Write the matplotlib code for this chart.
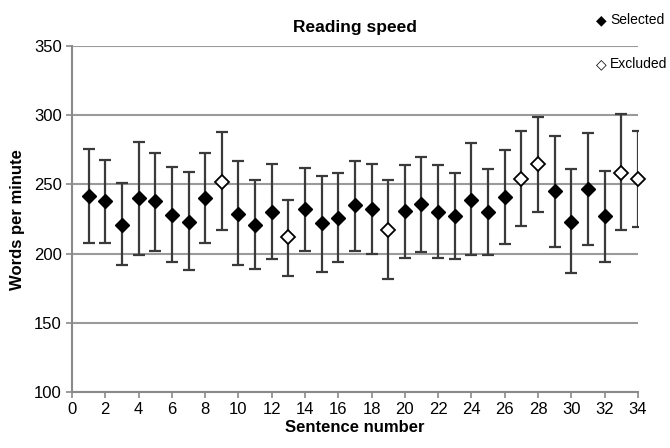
import matplotlib
matplotlib.use("Agg")
import matplotlib.pyplot as plt
import numpy as np

plt.rcParams['font.family'] = ['Liberation Sans', 'DejaVu Sans']

sentence = list(range(1, 35))
mean_wpm = [242, 238, 221, 240, 238, 228, 223, 240, 252, 229, 221,
            230, 212, 232, 222, 226, 235, 232, 217, 231, 236, 230,
            227, 239, 230, 241, 254, 265, 245, 223, 247, 227, 258, 254]
upper_wpm = [276, 268, 251, 281, 273, 263, 259, 273, 288, 267, 253,
             265, 239, 262, 256, 258, 267, 265, 253, 264, 270, 264,
             258, 280, 261, 275, 289, 299, 285, 261, 287, 260, 301, 289]
lower_wpm = [208, 208, 192, 199, 202, 194, 188, 208, 217, 192, 189,
             196, 184, 202, 187, 194, 202, 200, 182, 197, 201, 197,
             196, 199, 199, 207, 220, 230, 205, 186, 206, 194, 217, 219]
excluded = [9, 13, 19, 27, 28, 33, 34]

x = np.array(sentence)
m = np.array(mean_wpm)
up = np.array(upper_wpm)
lo = np.array(lower_wpm)
is_exc = np.isin(x, excluded)

fig = plt.figure(figsize=(6.7, 4.48), dpi=100)
ax = fig.add_axes([0.1075, 0.125, 0.8445, 0.772])

ax.errorbar(x, m, yerr=[m - lo, up - m], fmt='none', ecolor='#3a3a3a',
            elinewidth=1.6, capsize=4.5, capthick=1.6, zorder=3)
ax.plot(x[~is_exc], m[~is_exc], linestyle='none', marker='D', markersize=7.5,
        markerfacecolor='black', markeredgecolor='black', zorder=4, clip_on=False)
ax.plot(x[is_exc], m[is_exc], linestyle='none', marker='D', markersize=7,
        markerfacecolor='white', markeredgecolor='black', markeredgewidth=1.3,
        zorder=4, clip_on=False)

ax.set_xlim(0, 34)
ax.set_ylim(100, 350)
ax.set_xticks(range(0, 35, 2))
ax.set_yticks(range(100, 351, 50))
ax.yaxis.grid(True, color='#9a9a9a', linewidth=1.5)
ax.set_axisbelow(True)
for s in ['top', 'right']:
    ax.spines[s].set_visible(False)
for s in ['left', 'bottom']:
    ax.spines[s].set_color('#8a8a8a')
    ax.spines[s].set_linewidth(1.5)
ax.tick_params(axis='both', colors='#8a8a8a', length=4, width=1.2,
               labelcolor='black', labelsize=12)

ax.set_title('Reading speed', fontsize=12.5, fontweight='bold', pad=10)
ax.set_xlabel('Sentence number', fontsize=12, fontweight='bold', labelpad=2)
ax.set_ylabel('Words per minute', fontsize=12, fontweight='bold', labelpad=6)

# legend outside top-right
fig.text(0.897, 0.955, '\u25c6', fontsize=10, ha='center', va='center',
         family=['DejaVu Sans'])
fig.text(0.911, 0.955, 'Selected', fontsize=10, ha='left', va='center')
fig.text(0.897, 0.857, '\u25c7', fontsize=10, ha='center', va='center',
         family=['DejaVu Sans'])
fig.text(0.911, 0.857, 'Excluded', fontsize=10, ha='left', va='center')

fig.savefig('out.png', dpi=100)
